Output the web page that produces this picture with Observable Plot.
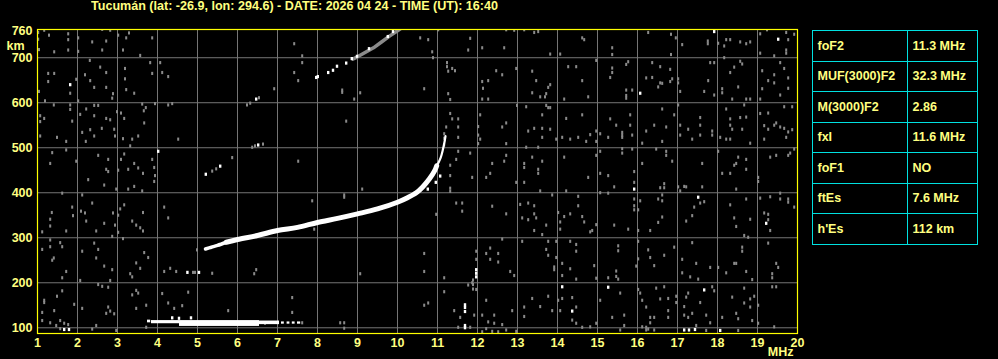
<!DOCTYPE html>
<html><head><meta charset="utf-8">
<script src="https://cdn.jsdelivr.net/npm/d3@7"></script>
<script src="https://cdn.jsdelivr.net/npm/@observablehq/plot@0.6"></script>
<style>
html,body{margin:0;padding:0;background:#000;}
body{width:998px;height:359px;overflow:hidden;position:relative;font-family:"Liberation Sans",Arial,sans-serif;}
#title{position:absolute;left:91px;top:-1px;color:#ffff80;font-weight:bold;font-size:12.5px;line-height:14px;white-space:nowrap;transform-origin:left top;z-index:3;}
#chart{position:absolute;left:0;top:0;z-index:1;}
#params{position:absolute;left:812px;top:30px;border-collapse:collapse;table-layout:fixed;z-index:2;background:#000;}
#params td{border:1px solid #00e0e0;color:#ffff80;font-weight:bold;font-size:12.5px;height:30.5px;padding:0 0 0 4.5px;box-sizing:border-box;white-space:nowrap;}
#params td.k{width:95px;}
#params td.v{width:70px;}
</style>
</head><body>
<div id="title"></div>
<div id="chart"></div>
<table id="params"></table>
<script>
const titleText = "Tucumán (lat: -26.9, lon: 294.6) - DATE: 2026 04 24 - TIME (UT): 16:40";
const paramNames = ["foF2","MUF(3000)F2","M(3000)F2","fxI","foF1","ftEs","h'Es"];
const paramValues = ["11.3 MHz","32.3 MHz","2.86","11.6 MHz","NO","7.6 MHz","112 km"];

const xTicks = [1,2,3,4,5,6,7,8,9,10,11,12,13,14,15,16,17,18,19,20];
const yTicks = [100,200,300,400,500,600,700,760];
const xGrid = [2,3,4,5,6,7,8,9,10,11,12,13,14,15,16,17,18,19];
const yGrid = [100,200,300,400,500,600,700];

// F-layer trace (MHz, km)
const fFreq   = [5.2,5.35,5.5,5.72,6.0,6.5,7.0,7.5,8.0,8.5,9.0,9.5,10.0,10.25,10.47,10.63,10.8,10.93,10.98];
const fHeight = [275,279,283,290,296,305,316,323,334,343,353,364,379,389,400,413,431,449,460];
// F-trace cusp near foF2
const cuspFreq   = [10.93,10.98,11.03,11.08,11.13,11.18,11.2];
const cuspHeight = [449,460,468,478,494,515,526];
// Sporadic E bands: [f1, f2, hLow, hHigh]
const esBands = [
  [3.75,3.83,111,117],[3.85,4.55,109,116],[4.55,6.55,103,116],[6.55,7.05,107,115],
  [7.1,7.17,108,113],[7.24,7.31,108,113],[7.37,7.44,108,113],[7.5,7.58,108,113]
];
// Second hop trace (grey band)
const hop2Freq   = [8.88,9.0,9.2,9.4,9.6,9.8,10.0,10.1];
const hop2Height = [697,702,712,722,735,748,760,766];
// Strong (white) isolated echoes
const echoWhite = [
  [7.98,655],[8.02,657],[8.28,666],[8.4,671],[8.5,680],[8.73,687],[8.87,697],[9.0,702],[9.3,719],[9.77,746],[9.9,757],
  [5.22,440],[5.58,458],[6.53,505],[6.48,607],[4.76,222],[5.05,222],[4.03,491],[1.83,639],[1.68,95],[1.8,95],
  [10.77,407],[10.97,422],[11.08,436],[11.7,150],[11.7,144],[11.7,135],[11.7,104],[11.7,99],[11.98,228],[11.98,220],[11.98,212],
  [14.13,190],[14.38,136],[16.08,620],[15.93,407],[17.53,389],[19.23,331],[19.53,740],[17.93,757],[15.28,189],[17.68,183],
  [17.18,94],[17.3,94],[17.45,95],[18.08,93],[4.38,121],[4.55,120],[4.85,121]
];
// Weaker (grey) echoes and noise
const echoGrey = [
  [5.0,272],[5.38,447],[5.48,452],[6.38,500],[6.45,503],[6.65,507],[5.88,477],[6.25,594],[6.33,598],[6.55,610],
  [4.9,222],[4.95,222],[5.38,220],[11.18,530],[11.18,520],[11.18,505],[11.9,205],[11.9,195],[11.9,185],
  [1.03,755],[1.03,740],[1.18,760],[1.3,749],[1.78,752],[1.78,739],[2.03,743],[2.03,713],[2.38,734],[2.63,762],[2.73,736],[2.83,760],
  [3.03,749],[3.3,754],[3.23,743],[3.15,716],[3.58,704],[3.88,743],[1.43,712],[1.78,716],[2.63,716],[1.05,717],
  [2.32,693],[2.58,678],[2.73,666],[1.28,664],[1.43,664],[1.28,646],[1.83,620],[2.2,661],[2.33,648],[2.43,633],[2.73,633],[2.9,619],[2.88,609],
  [3.2,675],[3.2,652],[3.23,628],[3.43,620],[3.88,664],[4.13,666],[4.28,657],[3.83,688],[4.08,688],[1.98,651],[1.2,603],[1.05,624],[2.03,603],
  [1.08,570],[1.18,564],[1.08,557],[1.08,525],[1.83,594],[1.83,584],[1.42,594],[2.08,573],[2.23,585],[2.43,593],[2.53,593],[2.43,570],
  [2.73,564],[2.83,561],[2.62,542],[2.33,539],[2.13,533],[2.43,525],[2.22,513],[1.73,513],[1.5,522],[2.93,540],[2.95,525],[3.0,579],
  [3.1,576],[3.18,564],[3.67,581],[3.72,588],[3.63,596],[3.68,554],[3.15,519],[3.38,518],[3.53,525],[3.33,503],[1.88,558],[4.53,518],
  [4.28,594],[4.38,597],[3.95,597],
  [1.38,488],[1.33,464],[1.73,494],[1.98,469],[2.53,482],[2.78,473],[2.73,451],[2.78,446],[2.28,428],[2.68,416],[3.03,449],[3.18,485],
  [3.1,473],[3.43,464],[3.53,454],[3.65,442],[3.28,451],[3.43,413],[3.28,407],[3.63,403],[3.88,473],[3.93,455],[3.95,437],[3.93,424],[2.98,407],
  [1.63,398],[2.13,394],[1.37,355],[1.33,340],[1.33,325],[1.13,312],[1.88,367],[1.9,348],[2.1,358],[2.2,354],[2.38,376],[2.23,336],
  [1.73,314],[2.48,314],[2.68,331],[2.9,354],[3.03,349],[3.08,363],[3.18,372],[3.38,336],[3.48,327],[3.58,321],[3.65,314],[2.95,327],
  [3.03,311],[3.15,297],[2.88,302],[3.65,355],[4.18,367],[4.28,343],
  [1.13,273],[1.33,294],[1.33,279],[1.58,288],[1.63,279],[1.38,249],[1.42,254],[2.13,269],[2.43,287],[2.53,273],[2.48,254],[2.68,236],
  [2.88,228],[1.73,224],[1.63,210],[2.83,204],[2.08,204],[3.33,219],[3.38,212],[3.48,243],[3.58,231],[3.68,266],[3.78,255],[4.18,224],
  [4.33,231],[4.48,224],
  [1.18,160],[1.18,155],[1.5,169],[1.43,137],[1.13,133],[1.13,115],[1.33,110],[1.48,104],[1.58,115],[1.68,109],[1.78,106],[1.63,181],
  [1.93,151],[2.13,142],[2.53,195],[2.63,191],[2.78,189],[2.78,145],[2.83,136],[2.93,130],[2.73,131],[2.48,104],[3.38,172],[3.48,182],
  [3.53,176],[3.48,142],[3.73,149],[4.13,175],[4.28,154],[4.43,142],[4.78,178],[1.58,97],[2.38,96],[2.98,93],[3.73,100],[4.63,148],
  [7.43,730],[7.63,703],[7.63,688],[7.43,666],[7.53,648],[6.93,630],[8.63,627],[8.63,622],[8.93,607],[9.08,621],[8.73,558],[7.53,469],
  [9.13,407],[8.68,394],[8.68,389],[7.88,381],[7.93,318],[6.48,228],[6.43,219],[9.08,219],[7.38,166],[7.38,133],[7.63,110],[8.58,110],
  [8.68,110],[8.68,98],[5.78,137],[6.7,109],
  [10.58,743],[10.78,739],[11.03,761],[11.83,742],[11.78,716],[10.88,712],[10.9,699],[12.73,761],[12.93,760],[13.18,761],[13.43,755],
  [13.53,757],[12.13,721],[12.68,721],[13.83,707],[14.08,707],[14.63,743],[14.68,739],[11.25,688],[11.25,679],[11.28,669],[11.38,675],
  [11.45,670],[10.68,630],[11.28,619],[11.33,606],[12.13,646],[12.15,631],[12.28,648],[12.28,607],[12.13,607],[12.48,670],[12.63,661],
  [12.98,675],[13.38,669],[13.48,648],[13.38,621],[13.73,619],[13.78,633],[13.83,639],[13.58,612],[13.7,612],[14.18,607],[14.28,679],
  [14.48,679],[14.63,648],[14.78,612],[14.98,693],[13.0,593],[13.23,590],[13.73,593],[13.78,588],[13.83,588],[13.63,572],[11.33,575],
  [11.38,563],[11.53,563],[11.23,545],[11.53,545],[11.53,522],[12.08,572],[12.03,546],[12.03,527],[12.03,508],[12.08,518],[12.63,545],
  [12.73,554],[12.73,508],[13.28,536],[13.43,542],[13.63,542],[13.63,522],[13.83,540],[13.98,518],[14.13,522],[14.23,564],[14.33,518],
  [14.53,522],[14.63,572],[14.73,513],[14.83,528],[14.98,536],[14.98,513],[15.08,530],[13.23,500],[13.53,500],[14.18,478],[14.98,482],
  [15.08,491],[11.53,491],[11.83,487],[11.48,473],[11.33,460],[11.33,437],[11.33,409],[11.33,402],[12.73,482],[12.68,469],[12.38,464],
  [12.33,442],[12.23,433],[11.88,433],[13.18,464],[13.18,455],[13.38,478],[13.63,469],[13.53,451],[13.53,442],[12.98,422],[13.18,422],
  [13.58,403],[14.23,403],[14.78,433],[15.08,442],[15.08,399],[10.98,351],[11.48,376],[11.63,376],[11.63,358],[12.38,369],[12.73,352],
  [13.08,373],[13.28,376],[13.43,370],[13.43,352],[13.13,343],[13.28,339],[13.48,343],[13.73,327],[13.43,315],[13.63,306],[13.88,394],
  [14.08,334],[14.08,318],[14.03,355],[14.18,346],[14.33,352],[14.53,391],[14.53,370],[14.68,334],[14.83,312],[14.88,315],[14.98,328],
  [14.63,346],
  [10.68,264],[10.68,224],[11.18,210],[11.98,269],[11.98,251],[12.23,264],[12.33,276],[12.53,264],[12.53,245],[12.63,296],[12.33,251],
  [12.83,224],[12.93,215],[13.13,291],[13.73,273],[13.78,260],[13.98,255],[13.93,234],[13.93,228],[14.13,242],[14.13,215],[14.33,291],
  [14.48,284],[14.48,269],[14.33,230],[14.48,207],[14.93,237],[14.98,209],[13.98,291],[13.78,291],
  [10.68,149],[10.78,154],[11.18,179],[11.78,194],[11.88,199],[11.98,184],[11.58,122],[11.43,137],[11.93,127],[12.13,127],[12.23,160],
  [12.28,112],[12.43,127],[12.43,109],[12.63,106],[12.73,94],[12.88,137],[13.18,145],[13.18,124],[13.38,164],[13.58,146],[13.78,169],
  [13.88,137],[14.03,160],[14.13,164],[14.08,137],[14.38,166],[14.48,145],[14.48,109],[14.63,100],[14.83,101],[14.98,109],[15.08,160],
  [12.13,90],[12.23,97],[11.53,100],[11.83,100],[12.38,91],[12.53,90],[12.98,91],[14.38,116],
  [15.38,721],[15.38,706],[16.28,755],[16.85,751],[16.97,743],[16.85,706],[17.13,728],[17.77,736],[17.77,730],[18.03,731],[18.23,739],
  [18.33,739],[18.58,734],[18.73,730],[18.83,734],[18.18,725],[19.08,752],[19.08,709],[19.25,761],[19.73,755],[19.73,716],[19.73,709],
  [19.78,739],[19.93,751],[19.43,703],[18.18,699],
  [15.78,690],[15.73,684],[15.38,676],[15.38,666],[15.33,655],[15.73,627],[15.73,609],[15.73,615],[15.88,627],[16.38,688],[16.58,679],
  [16.58,643],[16.38,655],[16.23,654],[16.53,634],[16.63,642],[16.83,673],[16.83,646],[16.88,652],[17.03,652],[17.03,643],[17.08,624],
  [17.68,624],[17.78,648],[17.93,688],[17.83,688],[17.93,616],[18.13,630],[18.13,621],[18.33,666],[18.43,678],[18.58,691],[18.63,685],
  [18.53,634],[18.38,607],[18.73,607],[18.83,607],[19.08,607],[19.13,630],[19.13,670],[19.28,648],[19.43,661],[19.43,643],[19.58,688],
  [19.68,675],[19.78,654],[19.78,631],[19.58,616],
  [15.33,563],[15.28,522],[15.48,549],[15.63,533],[15.63,522],[15.63,527],[15.83,572],[15.83,549],[15.88,527],[16.13,509],[16.23,536],
  [16.43,549],[16.63,585],[16.73,545],[16.63,513],[16.93,572],[17.03,594],[17.08,549],[17.28,540],[17.08,527],[17.38,518],[17.58,566],
  [17.58,549],[17.58,527],[17.88,536],[17.88,527],[18.08,522],[18.23,585],[18.33,563],[18.33,549],[18.38,540],[18.58,566],[18.63,540],
  [18.73,567],[18.83,509],[18.33,518],[18.23,518],[18.68,594],[19.08,575],[19.28,576],[19.43,549],[19.48,554],[19.58,545],[19.68,542],
  [19.78,534],[19.73,522],[19.88,539],[19.88,590],[19.68,590],[19.18,518],[19.28,540],[19.18,548],
  [15.28,437],[15.43,412],[15.63,497],[15.63,487],[15.88,496],[15.93,446],[15.93,422],[16.13,464],[16.48,496],[16.73,491],[16.73,482],
  [16.88,469],[16.68,419],[16.58,410],[16.68,410],[17.03,412],[17.23,412],[17.63,464],[17.63,412],[17.08,403],[18.03,491],[18.13,442],
  [18.33,442],[18.43,460],[18.48,464],[18.53,478],[18.73,473],[18.73,451],[18.48,407],[19.03,433],[19.33,478],[19.48,482],[19.78,482],
  [19.83,487],[19.93,496],[19.03,424],[17.18,413],
  [15.28,398],[15.43,327],[15.78,318],[15.93,385],[15.93,370],[15.93,361],[16.03,361],[16.08,381],[16.03,315],[16.33,315],[16.53,333],
  [16.63,345],[16.53,385],[16.63,394],[16.63,381],[17.23,336],[17.38,348],[17.43,367],[17.68,379],[17.58,376],[18.33,372],[18.43,343],
  [18.48,324],[18.73,385],[18.83,340],[18.68,304],[18.78,300],[19.08,387],[19.18,354],[19.28,351],[19.28,339],[19.33,390],[19.58,385],
  [19.78,385],[19.78,378],[19.93,367],[19.33,315],[19.58,398],
  [15.53,281],[15.53,270],[16.03,291],[16.03,252],[15.98,236],[16.28,272],[16.33,255],[16.68,260],[16.43,237],[16.93,278],[17.13,251],
  [17.13,221],[17.38,288],[17.48,242],[17.33,212],[17.53,207],[17.83,233],[18.03,233],[18.43,242],[18.48,242],[18.63,278],[18.63,269],
  [18.73,224],[18.88,206],[18.23,221],[19.28,287],[19.48,242],[19.53,233],[19.38,219],[19.38,210],[15.48,225],[15.48,213],[15.53,207],
  [15.28,210],
  [15.58,176],[15.38,122],[15.68,127],[15.58,94],[16.03,184],[16.08,176],[16.13,160],[16.23,145],[16.33,122],[16.33,110],[16.13,101],
  [16.23,100],[16.43,122],[16.48,187],[16.58,163],[16.68,190],[16.78,164],[16.78,137],[16.78,122],[16.98,169],[16.98,155],[17.23,167],
  [17.28,176],[17.18,146],[17.18,127],[17.28,122],[17.38,131],[17.48,104],[17.58,155],[17.73,127],[17.88,190],[17.93,181],[17.83,110],
  [18.13,122],[18.38,167],[18.48,131],[18.53,119],[18.68,187],[18.68,154],[18.83,145],[18.83,163],[18.93,169],[18.88,115],[19.03,149],
  [19.03,109],[19.38,190],[19.48,190],[19.43,101],[15.68,104],[17.73,93],[18.53,93],[16.43,94],[16.23,94],[16.28,96]
];

// ----- title -----
const tEl = document.getElementById("title");
tEl.textContent = titleText;
const tw = tEl.getBoundingClientRect().width;
tEl.style.transform = `scaleX(${407 / tw})`;

// ----- parameter table -----
const tbl = document.getElementById("params");
paramNames.forEach((n, i) => {
  const tr = document.createElement("tr");
  const a = document.createElement("td"); a.className = "k"; a.textContent = n;
  const b = document.createElement("td"); b.className = "v"; b.textContent = paramValues[i];
  tr.appendChild(a); tr.appendChild(b); tbl.appendChild(tr);
});

// ----- chart -----
const fTrace = fFreq.map((f, i) => ({f, h: fHeight[i]}));
const cusp = cuspFreq.map((f, i) => ({f, h: cuspHeight[i]}));
const hop2 = hop2Freq.map((f, i) => ({f, h: hop2Height[i]}));
const es = esBands.map(([f1, f2, h1, h2]) => ({f1, f2, h1, h2}));
const grey = echoGrey.map(([f, h]) => ({f, h}));
const white = echoWhite.map(([f, h]) => ({f, h}));

const chart = Plot.plot({
  width: 812,
  height: 359,
  marginLeft: 37,
  marginRight: 15,
  marginTop: 29,
  marginBottom: 26,
  style: {background: "#000", color: "#ffff80", fontFamily: "'Liberation Sans', Arial, sans-serif", fontWeight: "bold", fontSize: "12.5px"},
  x: {domain: [1, 20], label: null},
  y: {domain: [87.3, 762.7], label: null},
  marks: [
    Plot.ruleX(xGrid, {stroke: "#757575", strokeWidth: 1}),
    Plot.ruleY(yGrid, {stroke: "#757575", strokeWidth: 1}),
    Plot.rect(grey, {x1: d => d.f - 0.025, x2: d => d.f + 0.025, y1: d => d.h - 3.5, y2: d => d.h + 3.5, fill: "#8a8a8a", clip: true}),
    Plot.line(hop2, {x: "f", y: "h", stroke: "#8a8a8a", strokeWidth: 3.5, clip: true}),
    Plot.line(fTrace.filter(d => d.f <= 5.75), {x: "f", y: "h", stroke: "#fff", strokeWidth: 3.5, curve: "catmull-rom"}),
    Plot.line(fTrace.filter(d => d.f >= 5.7), {x: "f", y: "h", stroke: "#fff", strokeWidth: 5, curve: "catmull-rom"}),
    Plot.line(cusp, {x: "f", y: "h", stroke: "#fff", strokeWidth: 2.2, curve: "catmull-rom"}),
    Plot.rect(es, {x1: "f1", x2: "f2", y1: "h1", y2: "h2", fill: "#fff"}),
    Plot.rect(white, {x1: d => d.f - 0.03, x2: d => d.f + 0.03, y1: d => d.h - 3.5, y2: d => d.h + 3.5, fill: "#fff", clip: true}),
    Plot.frame({stroke: "#ffff00", strokeWidth: 1.2}),
    Plot.axisX(xTicks, {tickSize: 0, tickPadding: 5, fill: "#ffff80", fontSize: 12.5, fontWeight: "bold", tickFormat: d => String(d)}),
    Plot.axisY(yTicks, {tickSize: 0, tickPadding: 5, fill: "#ffff80", fontSize: 12.5, fontWeight: "bold", tickFormat: d => String(d)}),
    Plot.text(["km"], {frameAnchor: "top-left", dx: -31, dy: 16, textAnchor: "start", lineAnchor: "middle", fill: "#ffff80", fontSize: 12.5, fontWeight: "bold"}),
    Plot.text(["MHz"], {frameAnchor: "bottom-right", dx: -4, dy: 18.5, textAnchor: "end", lineAnchor: "middle", fill: "#ffff80", fontSize: 12.5, fontWeight: "bold"})
  ]
});
document.getElementById("chart").appendChild(chart);
</script>
</body></html>
